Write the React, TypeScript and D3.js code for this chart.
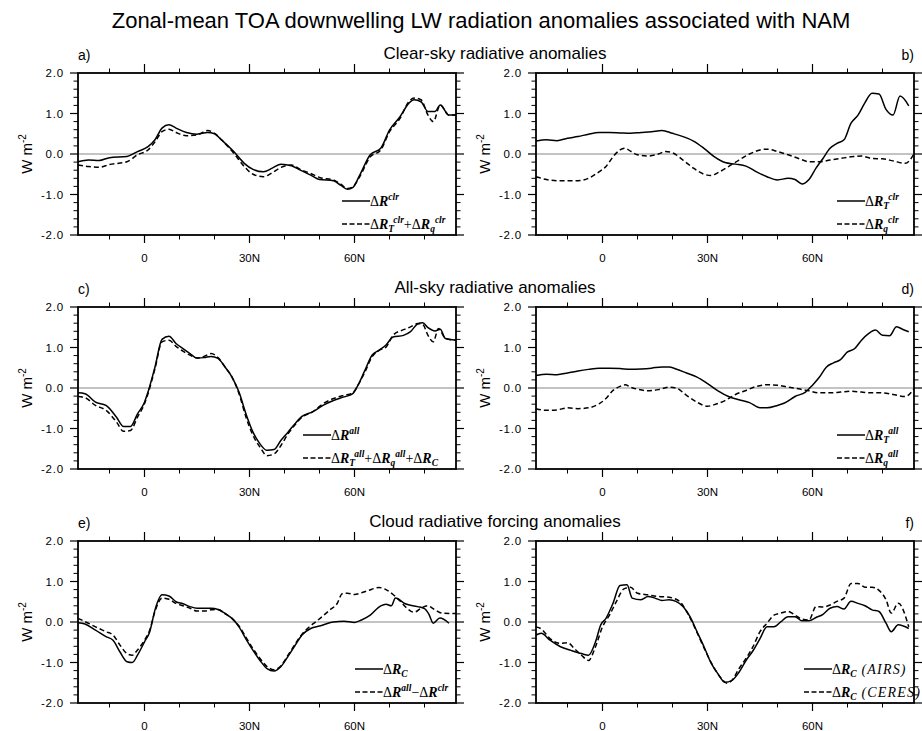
import React from 'react';
import * as d3 from 'd3';

// ---------- axis definitions ----------
const latDomain = [-19, 89];
const valDomain = [-2, 2];
const yMajor = [-2, -1, 0, 1, 2];
const yMajorLabels = ['-2.0', '-1.0', '0.0', '1.0', '2.0'];
const yMinor = [-1.8, -1.6, -1.4, -1.2, -0.8, -0.6, -0.4, -0.2, 0.2, 0.4, 0.6, 0.8, 1.2, 1.4, 1.6, 1.8];
const xMajor = [0, 30, 60];
const xMajorLabels = ['0', '30N', '60N'];
const xMinor = [-10, 10, 20, 40, 50, 70, 80];

const mainTitle = 'Zonal-mean TOA downwelling LW radiation anomalies associated with NAM';
const rowTitles = ['Clear-sky radiative anomalies', 'All-sky radiative anomalies', 'Cloud radiative forcing anomalies'];

// ---------- panel a ----------
const latA1 = [-19,-16,-13,-10,-5,-2,1,3,5,7,9,12,15,18,20,22,25.5,28.5,31,34,36.5,39,42,44.5,47.5,50,54,56,58,59.5,61.5,64.5,67.5,70,73,75.5,77,79,81,83,84.5,87,89];
const valA1 = [-0.19,-0.15,-0.16,-0.09,-0.06,0.06,0.18,0.35,0.64,0.72,0.64,0.53,0.49,0.53,0.5,0.35,0.06,-0.23,-0.38,-0.44,-0.35,-0.25,-0.29,-0.4,-0.52,-0.63,-0.66,-0.77,-0.87,-0.83,-0.52,-0.02,0.14,0.59,0.92,1.25,1.34,1.29,1.05,1.05,1.21,0.96,0.96];
const latA2 = [-19,-16,-13,-10,-5,-2,1,3,5,7,9,12,15,18,20,22,25.5,28.5,31,34,36.5,39,42,44.5,47.5,50,54,56,58,59.5,61.5,64.5,67.5,70,73,75.5,77,79,81,82.5,84.5,87,89];
const valA2 = [-0.27,-0.31,-0.33,-0.26,-0.19,-0.02,0.1,0.3,0.55,0.61,0.53,0.45,0.47,0.58,0.51,0.35,0.02,-0.31,-0.5,-0.56,-0.46,-0.33,-0.27,-0.38,-0.48,-0.58,-0.64,-0.74,-0.85,-0.81,-0.56,-0.07,0.1,0.55,0.88,1.29,1.38,1.34,0.96,0.8,1.21,0.96,0.96];

// ---------- panel b ----------
const latB1 = [-19,-16,-13,-10,-7,-4,-1,2,5,8,11,14,17,20,23,26,29,32,35,38,41,44,47,50,53,55,57,59,61,63,65,67,69,71,73,75,77,79,81,83,85,87.5];
const valB1 = [0.32,0.35,0.33,0.39,0.43,0.49,0.53,0.53,0.52,0.51,0.53,0.55,0.58,0.51,0.43,0.32,0.14,-0.07,-0.21,-0.25,-0.3,-0.44,-0.56,-0.64,-0.6,-0.63,-0.74,-0.63,-0.35,-0.11,0.14,0.26,0.35,0.76,0.96,1.27,1.5,1.48,1.1,0.96,1.43,1.19];
const latB2 = [-19,-16,-13,-10,-7,-4,-1,1,3,5,6.5,8,10,13,16,18,20,23,26,29,31,33,36,39,42,45,47,50,53,56,59,62,65,68,71,74,77,80,83,86.5,89];
const valB2 = [-0.56,-0.63,-0.66,-0.66,-0.66,-0.6,-0.44,-0.31,-0.07,0.1,0.14,0.07,-0.02,-0.05,0,0.06,0.03,-0.15,-0.35,-0.5,-0.53,-0.46,-0.31,-0.15,0,0.1,0.12,0.06,-0.02,-0.11,-0.19,-0.19,-0.15,-0.11,-0.07,-0.05,-0.11,-0.12,-0.17,-0.23,0];

// ---------- panel c ----------
const latC1 = [-19,-17,-14,-11,-8,-6,-4,-2,0,1,3,5,7,9,11,13,15,17,19,21,23,25,27,29,31,33,35,37,39,41,43,45,48,51,54,57,59.5,61,63,65,67,69,71,74,76,78,79.5,81,83,84.5,86,89];
const valC1 = [-0.12,-0.14,-0.35,-0.43,-0.72,-0.95,-0.95,-0.64,-0.35,-0.1,0.52,1.2,1.28,1.1,0.97,0.85,0.74,0.75,0.78,0.73,0.52,0.27,-0.1,-0.64,-1.09,-1.38,-1.54,-1.52,-1.29,-1.09,-0.88,-0.7,-0.59,-0.43,-0.31,-0.22,-0.14,0.07,0.44,0.81,0.93,1.06,1.26,1.3,1.39,1.58,1.61,1.49,1.41,1.45,1.22,1.18];
const latC2 = [-19,-17,-14,-11,-8,-6,-4,-2,0,1,3,5,7,9,11,13,15,17,19,21,23,25,27,29,31,33,35,37,39,41,43,45,48,51,54,57,59.5,61,63,65,67,69,71,74,76,78,79.5,81,82.5,84,86,89];
const valC2 = [-0.21,-0.24,-0.43,-0.55,-0.84,-1.07,-1.05,-0.72,-0.39,-0.14,0.48,1.14,1.18,1.03,0.91,0.81,0.74,0.78,0.85,0.75,0.52,0.27,-0.14,-0.72,-1.17,-1.46,-1.67,-1.63,-1.42,-1.13,-0.91,-0.72,-0.59,-0.39,-0.26,-0.18,-0.12,0.07,0.4,0.77,0.93,1.01,1.3,1.44,1.51,1.59,1.57,1.3,1.14,1.47,1.22,1.18];

// ---------- panel d ----------
const latD1 = [-19,-16,-13,-10,-7,-4,-1,2,5,8,11,14,17,19,21,24,27,30,33,36,39,42,45,47,50,52,55,58,60,62,64,66,68,70,72,74,76,78,80,82,84,86,87.5];
const valD1 = [0.31,0.34,0.33,0.37,0.42,0.46,0.49,0.49,0.48,0.46,0.47,0.49,0.52,0.52,0.47,0.37,0.27,0.11,-0.07,-0.21,-0.29,-0.36,-0.49,-0.49,-0.43,-0.37,-0.21,-0.1,0.07,0.27,0.52,0.62,0.7,0.89,0.97,1.18,1.34,1.43,1.3,1.29,1.51,1.44,1.39];
const latD2 = [-19,-16,-13,-10,-7,-4,-1,1,3,5,6.5,8,10,13,16,19,21,24,27,30,32,35,38,41,44,47,50,53,56,59,62,65,68,71,74,77,80,83,86.5,89];
const valD2 = [-0.51,-0.55,-0.54,-0.49,-0.51,-0.49,-0.39,-0.26,-0.06,0.04,0.08,0.02,-0.03,-0.07,-0.04,0.02,0,-0.18,-0.35,-0.45,-0.41,-0.31,-0.16,-0.06,0.04,0.08,0.07,0.02,-0.02,-0.07,-0.12,-0.12,-0.1,-0.08,-0.1,-0.12,-0.12,-0.16,-0.21,-0.02];

// ---------- panel e ----------
const latE1 = [-19,-17,-14,-11,-9,-7,-5,-3.5,-2,0,1.5,3,5,7,9,11,13,15,17,19,21,23,25,27,29,31,33,35,37,39,41,43,45,47.5,50,54,57,60,62,64.5,67.5,69,70.5,71.7,74.5,78,80,81.2,82.5,84.4,87];
const valE1 = [-0.02,-0.05,-0.2,-0.36,-0.45,-0.74,-0.98,-1.0,-0.82,-0.49,-0.24,0.3,0.67,0.64,0.5,0.45,0.38,0.34,0.34,0.34,0.31,0.21,0.09,-0.12,-0.42,-0.7,-0.95,-1.15,-1.21,-1.1,-0.85,-0.58,-0.32,-0.16,-0.1,0,0.02,-0.01,0.05,0.17,0.4,0.44,0.4,0.59,0.45,0.38,0.33,0.2,-0.03,0.1,-0.03];
const latE2 = [-19,-17,-14,-11,-9,-7,-5,-3.5,-2,0,1.5,3,5,7,9,11,13,15,17,19,21,23,25,27,29,31,33,35,37,39,41,43,45,47,49,51,53,55,56.5,58,60,62,64,67,69,71,73,75,77,79,80.8,83,85,89];
const valE2 = [0.09,0.01,-0.12,-0.24,-0.32,-0.57,-0.78,-0.82,-0.69,-0.45,-0.2,0.26,0.59,0.56,0.46,0.4,0.34,0.27,0.27,0.3,0.31,0.21,0.09,-0.1,-0.38,-0.66,-0.9,-1.1,-1.18,-1.08,-0.82,-0.55,-0.3,-0.13,0.01,0.15,0.3,0.45,0.7,0.71,0.68,0.72,0.78,0.85,0.8,0.68,0.52,0.34,0.24,0.34,0.4,0.3,0.22,0.21];

// ---------- panel f ----------
const latF1 = [-19,-17.5,-15,-12,-9,-6,-4,-2,-0.5,1,3,5,7,8.5,11,13,15,17,19,21,23,25,27,29,31,33,35,37,39,41,43,45,47,49,51,53,55,57,59,61,63,65,67,69,71,73,75,77,79,81,82.5,84.5,87.5];
const valF1 = [-0.32,-0.28,-0.45,-0.61,-0.7,-0.78,-0.82,-0.49,-0.07,0.09,0.46,0.9,0.92,0.59,0.55,0.63,0.59,0.53,0.55,0.51,0.38,0.13,-0.24,-0.61,-1.01,-1.28,-1.49,-1.44,-1.24,-0.95,-0.71,-0.41,-0.12,-0.12,0.01,0.13,0.13,0.03,0.03,0.11,0.19,0.34,0.38,0.32,0.51,0.46,0.4,0.3,0.26,-0.03,-0.24,-0.07,-0.16];
const latF2 = [-19,-17.5,-15,-12,-10,-8,-6,-4,-2,0,2,4,6,8,10,13,16,19,22,24,26,28,30,32,34,35.5,37,39,41,43,45,47,49,51,53,55,57,59,61,63,65,67,69,71,73,75,77,79,81,82.5,84.5,87.5];
const valF2 = [-0.12,-0.17,-0.41,-0.53,-0.51,-0.66,-0.82,-0.95,-0.61,-0.12,0.17,0.51,0.81,0.86,0.71,0.67,0.63,0.61,0.51,0.26,-0.07,-0.45,-0.82,-1.15,-1.4,-1.51,-1.44,-1.15,-0.9,-0.61,-0.24,-0.03,0.17,0.22,0.26,0.17,0.07,0.05,0.38,0.37,0.42,0.51,0.59,0.95,0.95,0.86,0.86,0.78,0.55,0.22,0.46,-0.12];

// ---------- legend labels (text, style) ----------
type Seg = [string, string];
const legA: Seg[][] = [
  [['Δ', 'u'], ['R', 'i'], ['clr', 'sup']],
  [['Δ', 'u'], ['R', 'i'], ['T', 'sub'], ['clr', 'sup'], ['+', 'u'], ['Δ', 'u'], ['R', 'i'], ['q', 'sub'], ['clr', 'sup']],
];
const legB: Seg[][] = [
  [['Δ', 'u'], ['R', 'i'], ['T', 'sub'], ['clr', 'sup']],
  [['Δ', 'u'], ['R', 'i'], ['q', 'sub'], ['clr', 'sup']],
];
const legC: Seg[][] = [
  [['Δ', 'u'], ['R', 'i'], ['all', 'sup']],
  [['Δ', 'u'], ['R', 'i'], ['T', 'sub'], ['all', 'sup'], ['+', 'u'], ['Δ', 'u'], ['R', 'i'], ['q', 'sub'], ['all', 'sup'], ['+', 'u'], ['Δ', 'u'], ['R', 'i'], ['C', 'sub']],
];
const legD: Seg[][] = [
  [['Δ', 'u'], ['R', 'i'], ['T', 'sub'], ['all', 'sup']],
  [['Δ', 'u'], ['R', 'i'], ['q', 'sub'], ['all', 'sup']],
];
const legE: Seg[][] = [
  [['Δ', 'u'], ['R', 'i'], ['C', 'sub']],
  [['Δ', 'u'], ['R', 'i'], ['all', 'sup'], ['−', 'u'], ['Δ', 'u'], ['R', 'i'], ['clr', 'sup']],
];
const legF: Seg[][] = [
  [['Δ', 'u'], ['R', 'i'], ['C', 'sub'], [' (AIRS)', 'p']],
  [['Δ', 'u'], ['R', 'i'], ['C', 'sub'], [' (CERES)', 'p']],
];

// ---------- layout ----------
const colLeft = [78, 536];
const rowTop = [73, 307, 541];
const PW = 378;
const PH = 162;

const panels = [
  { label: 'a)', col: 0, row: 0, s: [[latA1, valA1], [latA2, valA2]], leg: legA, legDx: 264 },
  { label: 'b)', col: 1, row: 0, s: [[latB1, valB1], [latB2, valB2]], leg: legB, legDx: 301 },
  { label: 'c)', col: 0, row: 1, s: [[latC1, valC1], [latC2, valC2]], leg: legC, legDx: 225 },
  { label: 'd)', col: 1, row: 1, s: [[latD1, valD1], [latD2, valD2]], leg: legD, legDx: 301 },
  { label: 'e)', col: 0, row: 2, s: [[latE1, valE1], [latE2, valE2]], leg: legE, legDx: 277 },
  { label: 'f)', col: 1, row: 2, s: [[latF1, valF1], [latF2, valF2]], leg: legF, legDx: 268 },
];

const SANS = '"Liberation Sans", Arial, Helvetica, sans-serif';
const SERIF = '"Liberation Serif", "Times New Roman", serif';

function LegendText({ x, y, segs }: { x: number; y: number; segs: Seg[] }) {
  let cur = 0;
  return (
    <text x={x} y={y} fontFamily={SERIF} fontSize={14} fill="#000">
      {segs.map(([t, k], i) => {
        const target = k === 'sub' ? 3.5 : k === 'sup' ? -5.5 : 0;
        const dy = target - cur;
        cur = target;
        const small = k === 'sub' || k === 'sup';
        return (
          <tspan
            key={i}
            dy={dy}
            fontSize={small ? 9.5 : 14}
            fontStyle={k === 'u' ? 'normal' : 'italic'}
            fontWeight={k === 'i' || small ? 'bold' : 'normal'}
            letterSpacing={k === 'p' ? 1.2 : 0}
            style={{ whiteSpace: 'pre' }}
          >
            {t}
          </tspan>
        );
      })}
    </text>
  );
}

function Panel({ p }: { p: typeof panels[number] }) {
  const left = colLeft[p.col];
  const top = rowTop[p.row];
  const x = d3.scaleLinear().domain(latDomain).range([left, left + PW]);
  const y = d3.scaleLinear().domain(valDomain).range([top + PH, top]);
  const line = d3
    .line<[number, number]>()
    .x((d) => x(d[0]))
    .y((d) => y(d[1]))
    .curve(d3.curveMonotoneX);
  const right = left + PW;
  const bottom = top + PH;
  const MJ = 8;
  const MN = 4.5;
  const legX = left + p.legDx;
  const rowsY = [top + 128, top + 151];
  return (
    <g>
      <line x1={left} x2={right} y1={y(0)} y2={y(0)} stroke="#888" strokeWidth={1} />
      {p.s.map(([lats, vals], i) => {
        const pts = (lats as number[]).map((la, j) => [la, (vals as number[])[j]] as [number, number]);
        return (
          <path
            key={i}
            d={line(pts) || ''}
            fill="none"
            stroke="#000"
            strokeWidth={1.5}
            strokeDasharray={i === 1 ? '5,3' : undefined}
          />
        );
      })}
      <rect x={left} y={top} width={PW} height={PH} fill="none" stroke="#000" strokeWidth={1.8} />
      {yMajor.map((v) => (
        <g key={'ym' + v}>
          <line x1={left - MJ} x2={left} y1={y(v)} y2={y(v)} stroke="#000" strokeWidth={1.2} />
          <line x1={right} x2={right + MJ} y1={y(v)} y2={y(v)} stroke="#000" strokeWidth={1.2} />
        </g>
      ))}
      {yMinor.map((v) => (
        <g key={'yn' + v}>
          <line x1={left - MN} x2={left} y1={y(v)} y2={y(v)} stroke="#000" strokeWidth={1} />
          <line x1={right} x2={right + MN} y1={y(v)} y2={y(v)} stroke="#000" strokeWidth={1} />
        </g>
      ))}
      {yMajor.map((v, i) => (
        <text
          key={'yl' + v}
          x={left - 14}
          y={y(v)}
          dy="0.36em"
          textAnchor="end"
          fontFamily={SANS}
          fontSize={11.5}
          letterSpacing={0.8}
        >
          {yMajorLabels[i]}
        </text>
      ))}
      {xMajor.map((v) => (
        <g key={'xm' + v}>
          <line x1={x(v)} x2={x(v)} y1={top - MJ - 1} y2={top} stroke="#000" strokeWidth={1.2} />
          <line x1={x(v)} x2={x(v)} y1={bottom} y2={bottom + MJ} stroke="#000" strokeWidth={1.2} />
        </g>
      ))}
      {xMinor.map((v) => (
        <g key={'xn' + v}>
          <line x1={x(v)} x2={x(v)} y1={top - MN} y2={top} stroke="#000" strokeWidth={1} />
          <line x1={x(v)} x2={x(v)} y1={bottom} y2={bottom + MN} stroke="#000" strokeWidth={1} />
        </g>
      ))}
      {xMajor.map((v, i) => (
        <text key={'xl' + v} x={x(v)} y={bottom + 26.5} textAnchor="middle" fontFamily={SANS} fontSize={11.5}>
          {xMajorLabels[i]}
        </text>
      ))}
      <text
        transform={`translate(${left - 46},${y(0)}) rotate(-90)`}
        textAnchor="middle"
        fontFamily={SANS}
        fontSize={15}
      >
        W m<tspan dy={-6} fontSize={10}>-2</tspan>
      </text>
      <text
        x={p.col === 0 ? left : right}
        y={top - 13}
        textAnchor={p.col === 0 ? 'start' : 'end'}
        fontFamily={SANS}
        fontSize={14}
      >
        {p.label}
      </text>
      {p.leg.map((segs, i) => (
        <g key={'lg' + i}>
          <line
            x1={legX}
            x2={legX + 28}
            y1={rowsY[i]}
            y2={rowsY[i]}
            stroke="#000"
            strokeWidth={1.5}
            strokeDasharray={i === 1 ? '5,2.5' : undefined}
          />
          <LegendText x={legX + 28} y={rowsY[i] + 4.5} segs={segs} />
        </g>
      ))}
    </g>
  );
}

export default function App() {
  return (
    <svg
      width={922}
      height={731}
      style={{ display: 'block', position: 'absolute', left: 0, top: 0, background: '#fff' }}
    >
      <rect x={0} y={0} width={922} height={731} fill="#fff" />
      <text x={481} y={28} textAnchor="middle" fontFamily={SANS} fontSize={22}>
        {mainTitle}
      </text>
      {rowTitles.map((t, i) => (
        <text key={t} x={495} y={rowTop[i] - 14} textAnchor="middle" fontFamily={SANS} fontSize={17}>
          {t}
        </text>
      ))}
      {panels.map((p) => (
        <Panel key={p.label} p={p} />
      ))}
    </svg>
  );
}
